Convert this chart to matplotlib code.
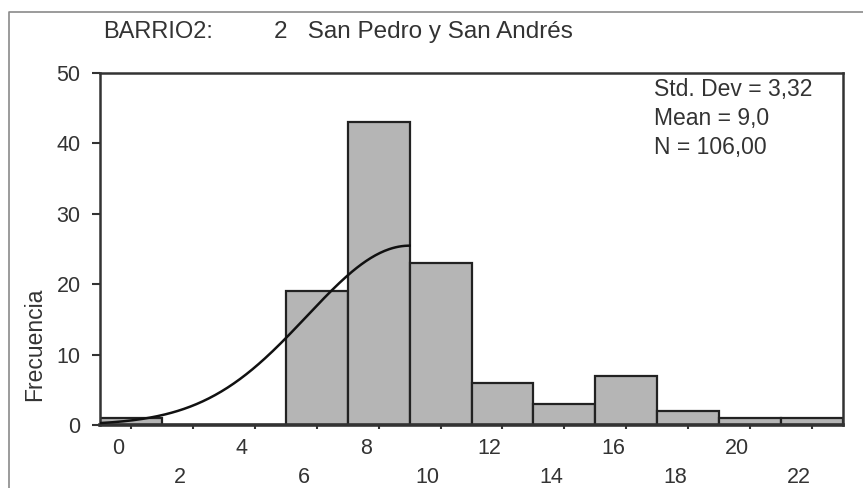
import numpy as np
import matplotlib
matplotlib.use("Agg")
import matplotlib.pyplot as plt
from matplotlib.transforms import ScaledTranslation

plt.rcParams['font.family'] = ['Liberation Sans', 'DejaVu Sans']

# Data (histogram bins of width 2, centred on tick values)
bin_centers = [0, 2, 4, 6, 8, 10, 12, 14, 16, 18, 20, 22]
counts = [1, 0, 0, 19, 43, 23, 6, 3, 7, 2, 1, 1]
bin_width = 2
std_dev = 3.32
mean = 9.0
n_total = 106
title_var = "BARRIO2:"
title_val = "2   San Pedro y San Andrés"
stats_lines = ["Std. Dev = 3,32", "Mean = 9,0", "N = 106,00"]
y_ticks = [0, 10, 20, 30, 40, 50]

txt = '#333333'
fig = plt.figure(figsize=(8.63, 4.88), dpi=100)
fig.patch.set_facecolor('white')

# outer frame line (screenshot border)
fig.add_artist(plt.Line2D([9/863, 9/863, 1.0], [0, 1-12/488, 1-12/488],
                          transform=fig.transFigure, color='#8a8a8a', lw=1.2))

ax = fig.add_axes([100/863, 1-425/488, (843-100)/863, (425-73)/488])
ax.bar(bin_centers, counts, width=bin_width, color='#b5b5b5',
       edgecolor='#222222', linewidth=1.6, zorder=2)

# normal curve (drawn up to the mean, as in the reference)
xs = np.linspace(-1, mean, 200)
ys = n_total * bin_width / (std_dev * np.sqrt(2*np.pi)) * np.exp(-0.5*((xs-mean)/std_dev)**2)
ax.plot(xs, ys, color='#111111', lw=1.8, zorder=3)

ax.set_xlim(-1, 23)
ax.set_ylim(0, 50)
for s in ax.spines.values():
    s.set_color('#333333')
    s.set_linewidth(1.8)
ax.spines['bottom'].set_linewidth(2.6)

ax.set_yticks(y_ticks)
ax.set_yticklabels([str(v) for v in y_ticks])
ax.tick_params(axis='y', direction='out', length=6, width=1.5, pad=8,
               labelsize=15.5, labelcolor=txt, color='#333333')

ax.set_xticks(bin_centers)
labels = [str(v) if i % 2 == 0 else "\n" + str(v) for i, v in enumerate(bin_centers)]
ax.set_xticklabels(labels, linespacing=1.55)
ax.tick_params(axis='x', direction='out', length=3, width=1.5, pad=6,
               labelsize=15.5, labelcolor=txt, color='#333333')
off = ScaledTranslation(-13/100, 0, fig.dpi_scale_trans)
for lbl in ax.get_xticklabels():
    lbl.set_transform(lbl.get_transform() + off)

ax.set_ylabel("Frecuencia", fontsize=16.5, color=txt)
ax.yaxis.set_label_coords(-0.073, 0.23)

ax.text(0.745, 0.985, "\n".join(stats_lines), transform=ax.transAxes,
        ha='left', va='top', fontsize=16.5, color=txt, linespacing=1.32)

fig.text(103/863, 1-32/488, title_var, ha='left', va='center', fontsize=17, color=txt)
fig.text(274/863, 1-32/488, title_val, ha='left', va='center', fontsize=17.5, color=txt)

fig.savefig("out.png", dpi=100, facecolor='white')
